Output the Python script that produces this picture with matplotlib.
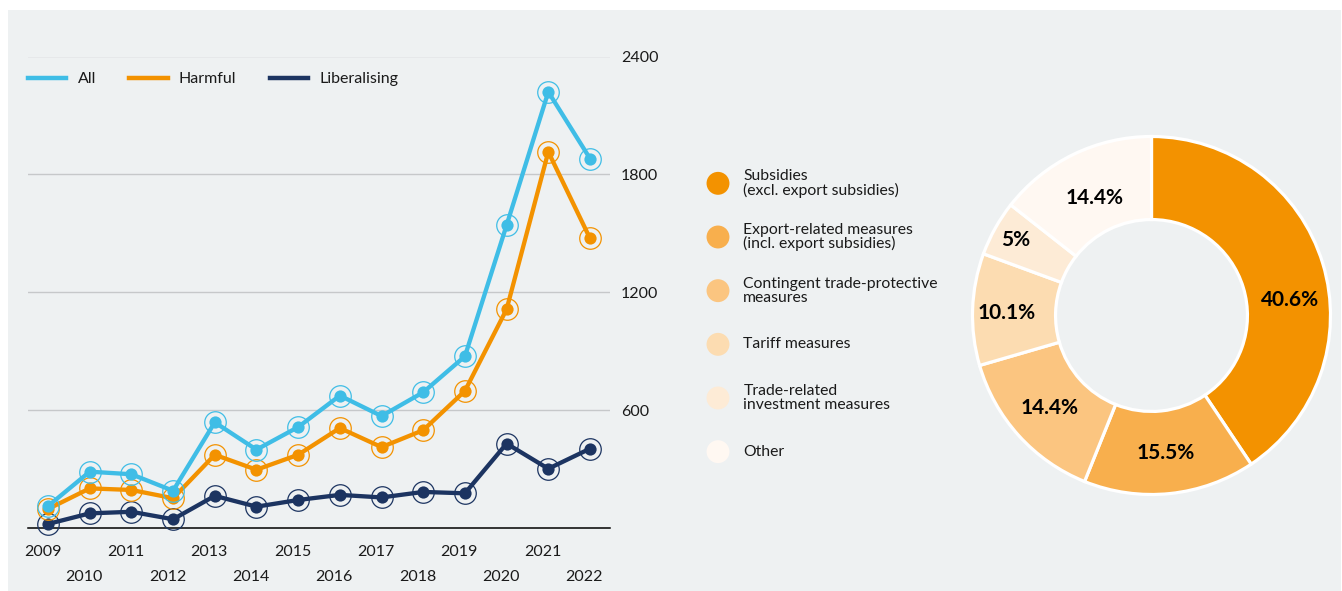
import matplotlib.pyplot as plt
from matplotlib.lines import Line2D
from matplotlib.patches import Rectangle
from matplotlib.transforms import blended_transform_factory
import numpy as np

plt.rcParams['font.family'] = ['Lato', 'DejaVu Sans']

# data
years = list(range(2009, 2023))
all_vals = [113, 288, 275, 191, 539, 400, 515, 675, 571, 692, 875, 1542, 2220, 1881]
harmful_vals = [98, 203, 195, 153, 374, 298, 374, 510, 413, 499, 699, 1114, 1915, 1475]
lib_vals = [22, 76, 84, 46, 165, 110, 144, 170, 157, 185, 178, 431, 303, 405]
y_ticks = [600, 1200, 1800, 2400]

pie_labels = ['Subsidies\n(excl. export subsidies)',
              'Export-related measures\n(incl. export subsidies)',
              'Contingent trade-protective\nmeasures',
              'Tariff measures',
              'Trade-related\ninvestment measures',
              'Other']
pie_vals = [40.6, 15.5, 14.4, 10.1, 5, 14.4]

# colours
bg = '#eef1f2'
c_all = '#3fbde6'
c_harm = '#f39200'
c_lib = '#1c3461'
pie_colors = ['#f39200', '#f8af4d', '#fbc580', '#fcdcb1', '#fdebd6', '#fff8f2']
txt = '#1a1a1a'

W, H = 1342, 591
fig = plt.figure(figsize=(W / 100, H / 100), dpi=100, facecolor='white')
fig.patches.append(Rectangle((8 / W, 0), 1333 / W, 581 / H, transform=fig.transFigure,
                             facecolor=bg, edgecolor='none', zorder=-10))

# ---- line chart ----
ax = fig.add_axes([28 / W, (H - 528.3) / H, 582 / W, 471.8 / H])
ax.set_facecolor('none')
ax.set_xlim(2008.52, 2022.48)
ax.set_ylim(0, 2400)

series = [(lib_vals, c_lib, 'Liberalising'), (harmful_vals, c_harm, 'Harmful'), (all_vals, c_all, 'All')]
for i, (vals, col, name) in enumerate(series):
    ax.plot(years, vals, color=col, lw=3.1, marker='o', ms=8.8, mew=0,
            clip_on=False, zorder=3 + i)
    ax.plot(years, vals, ls='none', marker='o', ms=15.5, mfc='none', mec=col, mew=0.9,
            clip_on=False, zorder=3 + i)

for s in ['top', 'left', 'right']:
    ax.spines[s].set_visible(False)
ax.spines['bottom'].set_color('black')
ax.spines['bottom'].set_linewidth(1.1)
ax.spines['bottom'].set_zorder(2)

ax.yaxis.tick_right()
ax.set_yticks(y_ticks)
ax.set_yticklabels([str(t) for t in y_ticks], fontsize=11.5, color=txt)
ax.tick_params(axis='y', length=0, pad=8)
ax.grid(axis='y', color='#c6c8ca', lw=1)
ax.set_axisbelow(True)

ax.set_xticks([])
trans = blended_transform_factory(ax.transData, ax.transAxes)
for yr in years:
    dy = -16.8 if yr % 2 == 1 else -34.8
    ax.annotate(str(yr), xy=(yr, 0), xycoords=trans, xytext=(-4, dy),
                textcoords='offset points', ha='center', va='center',
                fontsize=11.5, color=txt, annotation_clip=False)

handles = [Line2D([], [], color=c_all, lw=3.2),
           Line2D([], [], color=c_harm, lw=3.2),
           Line2D([], [], color=c_lib, lw=3.2)]
ax.legend(handles, ['All', 'Harmful', 'Liberalising'], loc='center left',
          bbox_to_anchor=(0, 0.9523), ncol=3, frameon=False, fontsize=11.5,
          handlelength=2.4, handletextpad=0.7, columnspacing=2.1,
          borderpad=0, borderaxespad=0, labelcolor=txt)

# ---- donut ----
cx, cy, r = 1151.5, 315.5, 179
axp = fig.add_axes([(cx - r) / W, (H - cy - r) / H, 2 * r / W, 2 * r / H])
wedges, _ = axp.pie(pie_vals, colors=pie_colors, startangle=90, counterclock=False,
                    radius=1, wedgeprops=dict(width=0.464, edgecolor='white', linewidth=2.3))
axp.set_xlim(-1, 1)
axp.set_ylim(-1, 1)
lab_r = [0.78, 0.77, 0.77, 0.81, 0.87, 0.73]
lab_shift = [-10.5, 0, 0, 1, 0, 0]
for w, v, rr, sh in zip(wedges, pie_vals, lab_r, lab_shift):
    ang = np.deg2rad((w.theta1 + w.theta2) / 2 + sh)
    axp.text(rr * np.cos(ang), rr * np.sin(ang), f'{v:g}%', ha='center', va='center',
             fontsize=15, fontweight='bold', color='black')

# ---- donut legend ----
axl = fig.add_axes([700 / W, (H - 478.5) / H, 260 / W, 322 / H])
axl.set_facecolor('none')
axl.axis('off')
axl.set_xlim(0, 260)
axl.set_ylim(5.5, -0.5)
axl.scatter([18] * len(pie_vals), range(len(pie_vals)), s=16.5 ** 2, c=pie_colors,
            edgecolors='none')
for i, lab in enumerate(pie_labels):
    axl.text(43.3, i, lab, ha='left', va='center', fontsize=11.3, color=txt,
             linespacing=0.98)

fig.savefig('out.png', dpi=100, facecolor='white')
